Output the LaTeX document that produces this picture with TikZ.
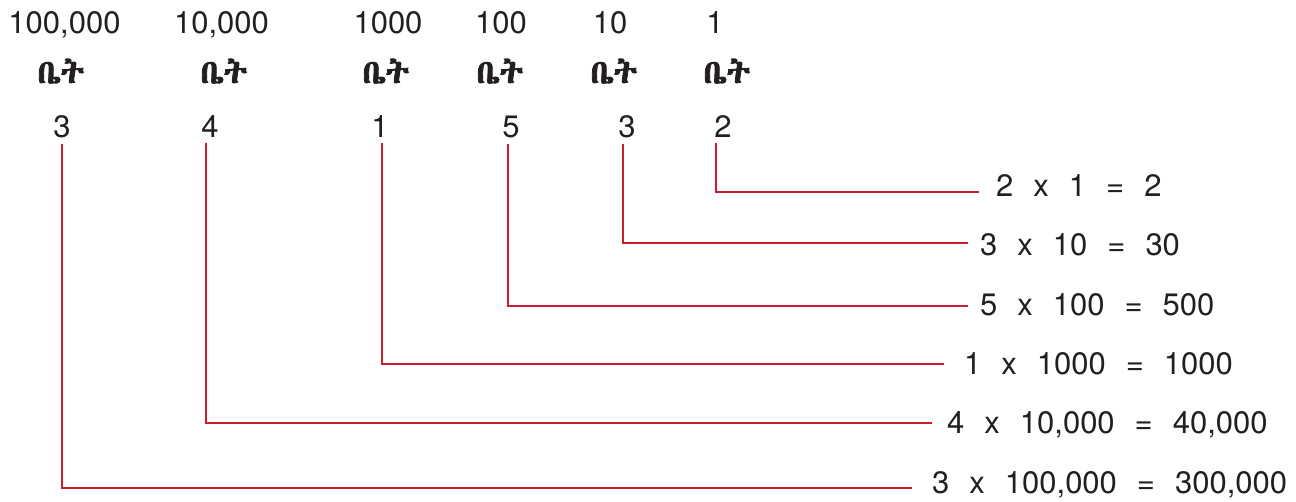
\documentclass[tikz,border=0pt]{standalone}
\usepackage{fontspec}
\setmainfont{TeX Gyre Heros}
\newfontfamily\ethf[FakeBold=2.5]{Abyssinica SIL}
\definecolor{linered}{RGB}{200,30,45}
\definecolor{ink}{RGB}{35,31,32}
\newcommand\gp{\hspace{20pt}}
\begin{document}
\begin{tikzpicture}[x=1pt,y=-1pt,
  every node/.style={inner sep=0pt, text=ink, font=\fontsize{31}{31}\selectfont},
  eth/.style={font=\fontsize{33}{33}\selectfont\ethf},
  link/.style={draw=linered, line width=1.6pt}]
\useasboundingbox (0,0) rectangle (1296,501);
% place values
\node[anchor=base] (p1) at (64.5,33) {100,000};
\node[anchor=base] (p2) at (221.5,33) {10,000};
\node[anchor=base] (p3) at (388,33) {1000};
\node[anchor=base] (p4) at (501,33) {100};
\node[anchor=base] (p5) at (610,33) {10};
\node[anchor=base] (p6) at (715,33) {1};
% bet
\node[eth,anchor=base] (b1) at (61,83) {ቤት};
\node[eth,anchor=base] (b2) at (224,83) {ቤት};
\node[eth,anchor=base] (b3) at (386,83) {ቤት};
\node[eth,anchor=base] (b4) at (500,83) {ቤት};
\node[eth,anchor=base] (b5) at (614,83) {ቤት};
\node[eth,anchor=base] (b6) at (727,83) {ቤት};
% digits
\node[anchor=base] (d1) at (62,137) {3};
\node[anchor=base] (d2) at (210,137) {4};
\node[anchor=base] (d3) at (380,137) {1};
\node[anchor=base] (d4) at (511,137) {5};
\node[anchor=base] (d5) at (627,137) {3};
\node[anchor=base] (d6) at (723,137) {2};
% equations
\node[anchor=base west] (e6) at (996,196) {2\gp x\gp 1\gp =\gp 2};
\node[anchor=base west] (e5) at (980,255) {3\gp x\gp 10\gp =\gp 30};
\node[anchor=base west] (e4) at (980,315) {5\gp x\gp 100\gp =\gp 500};
\node[anchor=base west] (e3) at (964,374) {1\gp x\gp 1000\gp =\gp 1000};
\node[anchor=base west] (e2) at (947,433) {4\gp x\gp 10,000\gp =\gp 40,000};
\node[anchor=base west] (e1) at (932,493) {3\gp x\gp 100,000\gp =\gp 300,000};
% line ends
\coordinate (c6) at (979,192);
\coordinate (c5) at (968,243);
\coordinate (c4) at (968,306);
\coordinate (c3) at (944,364);
\coordinate (c2) at (932,423);
\coordinate (c1) at (912,488);
\draw[link] ([xshift=-7pt,yshift=-6pt]d6.south) |- (c6);
\draw[link] ([xshift=-4pt,yshift=-6pt]d5.south) |- (c5);
\draw[link] ([xshift=-3pt,yshift=-6pt]d4.south) |- (c4);
\draw[link] ([xshift=2pt,yshift=-6pt]d3.south) |- (c3);
\draw[link] ([xshift=-4pt,yshift=-6pt]d2.south) |- (c2);
\draw[link] ([xshift=0pt,yshift=-6pt]d1.south) |- (c1);
\end{tikzpicture}
\end{document}
